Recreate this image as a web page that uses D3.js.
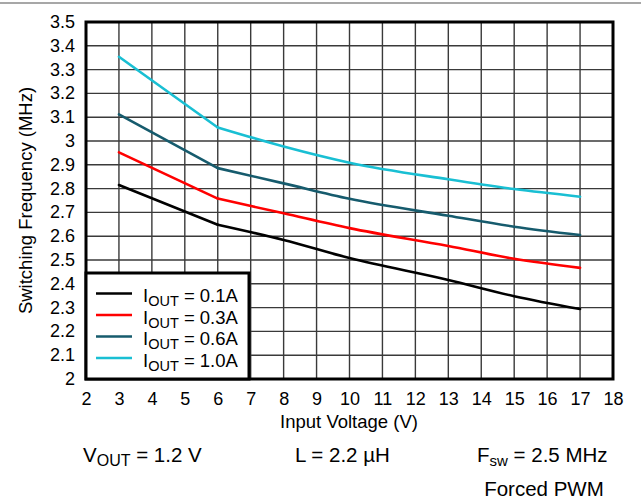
<!DOCTYPE html>
<html>
<head>
<meta charset="utf-8">
<script src="https://cdn.jsdelivr.net/npm/d3@7"></script>
<style>
  html, body { margin: 0; padding: 0; background: #fff; }
  svg { display: block; font-family: "Liberation Sans", Arial, sans-serif; }
</style>
</head>
<body>
<svg id="chart" width="641" height="500"></svg>
<script>
// ---- data ----
const voltages = [3, 6, 8, 10, 13, 15, 17];
const seriesNames = ["0.1A", "0.3A", "0.6A", "1.0A"];
const iout01 = [2.815, 2.648, 2.584, 2.508, 2.416, 2.348, 2.294];
const iout03 = [2.952, 2.758, 2.696, 2.634, 2.559, 2.505, 2.467];
const iout06 = [3.112, 2.886, 2.822, 2.757, 2.686, 2.640, 2.605];
const iout10 = [3.354, 3.057, 2.977, 2.909, 2.839, 2.798, 2.766];
const seriesColors = ["#000000", "#ff0000", "#165b6d", "#19bfd3"];
const xTicks = d3.range(2, 19, 1);
const yTicks = d3.range(0, 16).map(i => +(2 + i * 0.1).toFixed(1));

const seriesValues = [iout01, iout03, iout06, iout10];

const svg = d3.select("#chart");
const W = 641, H = 500;
const m = { left: 86, right: 28, top: 22, bottom: 121 };
const x = d3.scaleLinear().domain([2, 18]).range([m.left, W - m.right]);
const y = d3.scaleLinear().domain([2, 3.5]).range([H - m.bottom, m.top]);

// top rule
svg.append("line").attr("x1", 0).attr("x2", W).attr("y1", 3).attr("y2", 3)
  .attr("stroke", "#8a8a8a").attr("stroke-width", 1.5);

// grid
const g = svg.append("g");
g.selectAll("line.v").data(xTicks).join("line").attr("class", "v")
  .attr("x1", d => x(d)).attr("x2", d => x(d))
  .attr("y1", y(2)).attr("y2", y(3.5))
  .attr("stroke", "#3a3a3a").attr("stroke-width", 1.4);
g.selectAll("line.h").data(yTicks).join("line").attr("class", "h")
  .attr("x1", x(2)).attr("x2", x(18))
  .attr("y1", d => y(d)).attr("y2", d => y(d))
  .attr("stroke", "#3a3a3a").attr("stroke-width", 1.4);

// series: straight first segment, smooth afterwards
const lineLin = d3.line().x(d => x(d[0])).y(d => y(d[1]));
const lineSmooth = d3.line().x(d => x(d[0])).y(d => y(d[1])).curve(d3.curveMonotoneX);
seriesValues.forEach((vals, i) => {
  const pts = voltages.map((v, j) => [v, vals[j]]);
  [[lineLin, pts.slice(0, 2)], [lineSmooth, pts.slice(1)]].forEach(([gen, p]) => {
    svg.append("path")
      .datum(p)
      .attr("d", gen)
      .attr("fill", "none")
      .attr("stroke", seriesColors[i])
      .attr("stroke-linecap", "round")
      .attr("stroke-width", 2.6);
  });
});

// frame
svg.append("rect").attr("x", x(2)).attr("y", y(3.5))
  .attr("width", x(18) - x(2)).attr("height", y(2) - y(3.5))
  .attr("fill", "none").attr("stroke", "#000").attr("stroke-width", 3);

// axes (labels only)
const yAxis = d3.axisLeft(y).tickValues(yTicks).tickSize(0).tickPadding(10)
  .tickFormat(d => d3.format("")(d));
const ya = svg.append("g").attr("transform", `translate(${x(2) - 1},0)`).call(yAxis);
ya.select(".domain").remove();
ya.selectAll("text").attr("font-size", 18).attr("fill", "#000")
  .attr("font-family", "Liberation Sans, Arial, sans-serif").attr("dy", "0.3em");

const xAxis = d3.axisBottom(x).tickValues(xTicks).tickSize(0).tickPadding(13)
  .tickFormat(d3.format("d"));
const xa = svg.append("g").attr("transform", `translate(0,${y(2)})`).call(xAxis);
xa.select(".domain").remove();
xa.selectAll("text").attr("font-size", 18).attr("fill", "#000")
  .attr("font-family", "Liberation Sans, Arial, sans-serif");

// axis titles
svg.append("text").attr("x", 349).attr("y", 428).attr("text-anchor", "middle")
  .attr("font-size", 18.5).text("Input Voltage (V)");
svg.append("text").attr("transform", `translate(32,${(y(2) + y(3.5)) / 2}) rotate(-90)`)
  .attr("text-anchor", "middle").attr("font-size", 18.5).text("Switching Frequency (MHz)");

// legend
const lg = svg.append("g");
lg.append("rect").attr("x", x(2)).attr("y", 273)
  .attr("width", 163).attr("height", y(2) - 273)
  .attr("fill", "#fff").attr("stroke", "#000").attr("stroke-width", 3);
seriesNames.forEach((n, i) => {
  const cy = 293.5 + i * 21.5;
  lg.append("line").attr("x1", 96).attr("x2", 132).attr("y1", cy).attr("y2", cy)
    .attr("stroke", seriesColors[i]).attr("stroke-width", 2.6);
  const t = lg.append("text").attr("x", 143).attr("y", cy + 8.5).attr("font-size", 18.5);
  t.append("tspan").text("I");
  t.append("tspan").attr("dy", 4).attr("font-size", 14.5).text("OUT");
  t.append("tspan").attr("dy", -4).text(" = " + n);
});

// footer
const f1 = svg.append("text").attr("x", 83).attr("y", 462).attr("font-size", 20.5);
f1.append("tspan").text("V");
f1.append("tspan").attr("dy", 4).attr("font-size", 16).text("OUT");
f1.append("tspan").attr("dy", -4).text(" = 1.2 V");

svg.append("text").attr("x", 295).attr("y", 462).attr("font-size", 20.5).text("L = 2.2 µH");

const f3 = svg.append("text").attr("x", 477).attr("y", 462).attr("font-size", 20.5);
f3.append("tspan").text("F");
f3.append("tspan").attr("dy", 4).attr("font-size", 15).text("sw");
f3.append("tspan").attr("dy", -4).text(" = 2.5 MHz");

svg.append("text").attr("x", 544).attr("y", 496).attr("text-anchor", "middle")
  .attr("font-size", 20.5).text("Forced PWM");
</script>
</body>
</html>
